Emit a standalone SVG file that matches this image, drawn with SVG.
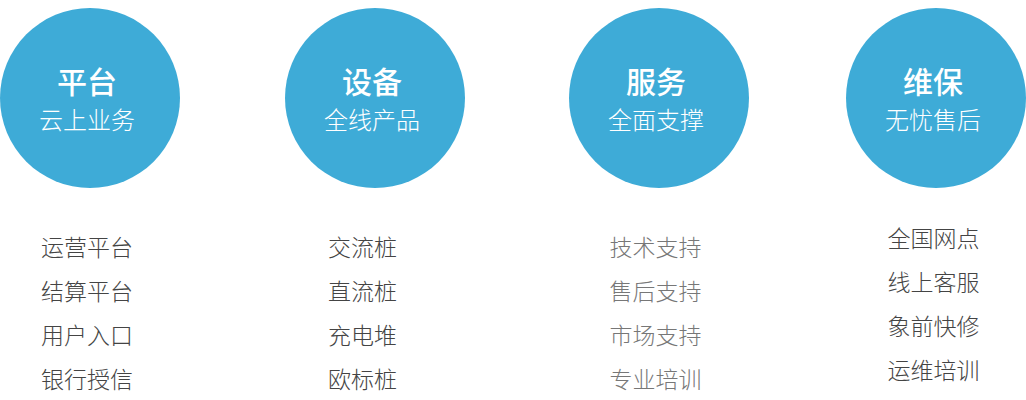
<svg xmlns="http://www.w3.org/2000/svg" width="1026" height="400" viewBox="0 0 1026 400">
<style>
.c{fill:#3eabd7}
.t{font-family:"Noto Sans CJK SC","Noto Sans",sans-serif;fill:#fff;text-anchor:middle}
.h{font-size:30px;font-weight:500}
.s{font-size:24px;font-weight:300}
.l{font-family:"Noto Sans CJK SC","Noto Sans",sans-serif;font-size:23px;font-weight:300;fill:#444;text-anchor:middle}
.g{fill:#777}
</style>
<rect width="1026" height="400" fill="#fff"/>
<g id="node-platform">
<circle class="c" cx="90" cy="98" r="90"/>
<text class="t h" x="87" y="93">平台</text>
<text class="t s" x="87" y="129">云上业务</text>
<text class="l" x="87" y="256">运营平台</text>
<text class="l" x="87" y="300">结算平台</text>
<text class="l" x="87" y="344">用户入口</text>
<text class="l" x="87" y="388">银行授信</text>
</g>
<g id="node-device">
<circle class="c" cx="375" cy="98" r="90"/>
<text class="t h" x="372" y="93">设备</text>
<text class="t s" x="372" y="129">全线产品</text>
<text class="l" x="362.5" y="256">交流桩</text>
<text class="l" x="362.5" y="300">直流桩</text>
<text class="l" x="362.5" y="344">充电堆</text>
<text class="l" x="362.5" y="388">欧标桩</text>
</g>
<g id="node-service">
<circle class="c" cx="659" cy="98" r="90"/>
<text class="t h" x="656" y="93">服务</text>
<text class="t s" x="656" y="129">全面支撑</text>
<text class="l g" x="655.5" y="256">技术支持</text>
<text class="l g" x="655.5" y="300">售后支持</text>
<text class="l g" x="655.5" y="344">市场支持</text>
<text class="l g" x="655.5" y="388">专业培训</text>
</g>
<g id="node-maintenance">
<circle class="c" cx="936" cy="98" r="90"/>
<text class="t h" x="933" y="93">维保</text>
<text class="t s" x="933" y="129">无忧售后</text>
<text class="l" x="933.5" y="247">全国网点</text>
<text class="l" x="933.5" y="291">线上客服</text>
<text class="l" x="933.5" y="335">象前快修</text>
<text class="l" x="933.5" y="379">运维培训</text>
</g>
<g id="connectors"></g>
</svg>
